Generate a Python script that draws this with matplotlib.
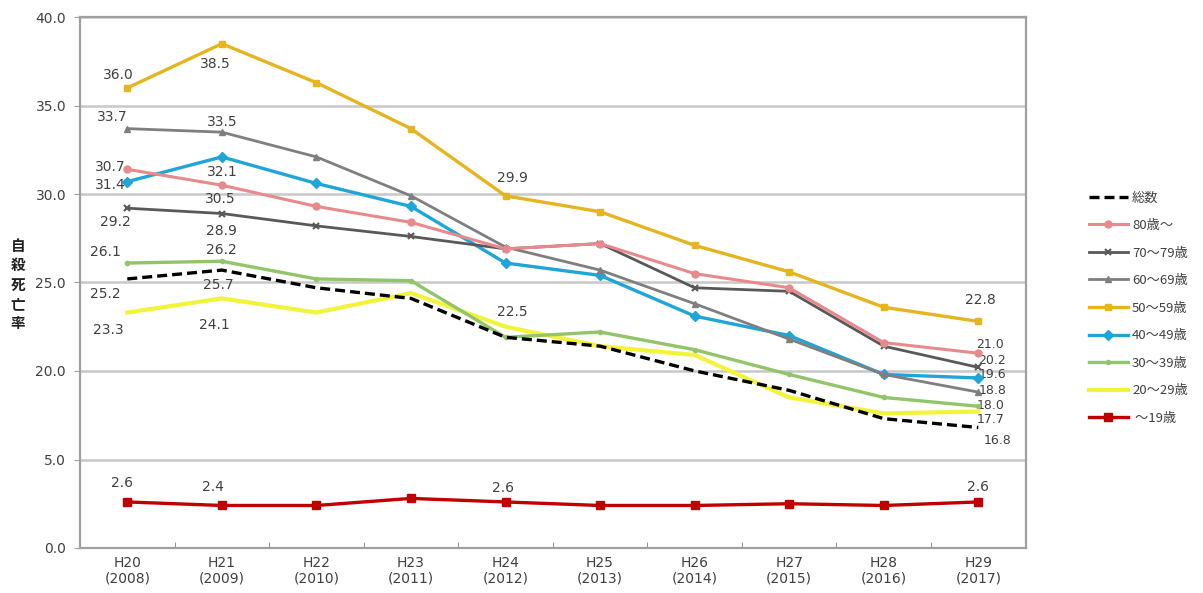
import matplotlib
matplotlib.use("Agg")
import matplotlib.pyplot as plt
import numpy as np

plt.rcParams['font.family'] = ['Noto Sans CJK JP', 'DejaVu Sans']

# categories
years = ["H20\n(2008)", "H21\n(2009)", "H22\n(2010)", "H23\n(2011)", "H24\n(2012)",
         "H25\n(2013)", "H26\n(2014)", "H27\n(2015)", "H28\n(2016)", "H29\n(2017)"]

# series values (suicide rate)
total = [25.2, 25.7, 24.7, 24.1, 21.9, 21.4, 20.0, 18.9, 17.3, 16.8]
age80 = [31.4, 30.5, 29.3, 28.4, 26.9, 27.2, 25.5, 24.7, 21.6, 21.0]
age70 = [29.2, 28.9, 28.2, 27.6, 26.9, 27.2, 24.7, 24.5, 21.4, 20.2]
age60 = [33.7, 33.5, 32.1, 29.9, 27.0, 25.7, 23.8, 21.8, 19.8, 18.8]
age50 = [36.0, 38.5, 36.3, 33.7, 29.9, 29.0, 27.1, 25.6, 23.6, 22.8]
age40 = [30.7, 32.1, 30.6, 29.3, 26.1, 25.4, 23.1, 22.0, 19.8, 19.6]
age30 = [26.1, 26.2, 25.2, 25.1, 21.9, 22.2, 21.2, 19.8, 18.5, 18.0]
age20 = [23.3, 24.1, 23.3, 24.4, 22.5, 21.4, 20.9, 18.5, 17.6, 17.7]
age19 = [2.6, 2.4, 2.4, 2.8, 2.6, 2.4, 2.4, 2.5, 2.4, 2.6]

names = ["総数", "80歳～", "70～79歳", "60～69歳", "50～59歳", "40～49歳", "30～39歳", "20～29歳", " ～19歳"]

y_ticks = [0, 5, 20, 25, 30, 35, 40]


def main():

    series = {
        "総数": (total, dict(color="black", ls=(0, (3, 1.5)), lw=2.4, marker=None)),
        "80歳～": (age80, dict(color="#E88A8C", lw=2.2, marker="o", ms=5)),
        "70～79歳": (age70, dict(color="#595959", lw=2.0, marker="x", ms=5, mew=1.5)),
        "60～69歳": (age60, dict(color="#7F7F7F", lw=2.0, marker="^", ms=5)),
        "50～59歳": (age50, dict(color="#E5B41E", lw=2.4, marker="s", ms=5)),
        "40～49歳": (age40, dict(color="#1FA5D8", lw=2.4, marker="D", ms=5)),
        "30～39歳": (age30, dict(color="#92C46A", lw=2.4, marker="o", ms=3)),
        "20～29歳": (age20, dict(color="#F2F43A", lw=3.0, marker=None)),
        " ～19歳": (age19, dict(color="#C00000", lw=2.4, marker="s", ms=6)),
    }

    fig = plt.figure(figsize=(12.03, 5.93), dpi=100)
    ax = fig.add_axes([0.0665, 0.076, 0.786, 0.895])

    # broken axis: the empty band between 5 and 15 is squeezed out
    fwd = lambda v: np.interp(v, [-100, 5, 15, 100], [-100, 5, 5.01, 90.01])
    inv = lambda v: np.interp(v, [-100, 5, 5.01, 90.01], [-100, 5, 15, 100])
    ax.set_yscale("function", functions=(fwd, inv))

    x = np.arange(len(years))
    lines = {}
    draw_order = [" ～19歳", "20～29歳", "30～39歳", "40～49歳", "60～69歳",
                  "50～59歳", "70～79歳", "80歳～", "総数"]
    for i, name in enumerate(draw_order):
        vals, st = series[name]
        ln, = ax.plot(x, vals, label=name, zorder=3 + i, **st)
        lines[name] = ln

    # data labels: (series, index, dx px, dy px)
    label_spots = [
        ("50～59歳", 0, -9, 13), ("60～69歳", 0, -15, 12), ("40～49歳", 0, -17, 15),
        ("80歳～", 0, -17, -16), ("70～79歳", 0, -12, -14), ("30～39歳", 0, -22, 11),
        ("総数", 0, -22, -15), ("20～29歳", 0, -19, -17), (" ～19歳", 0, -5, 19),
        ("50～59歳", 1, -7, -20), ("60～69歳", 1, 0, 10), ("40～49歳", 1, 0, -15),
        ("80歳～", 1, -2, -14), ("70～79歳", 1, 0, -17), ("30～39歳", 1, 0, 11),
        ("総数", 1, -4, -15), ("20～29歳", 1, -7, -27), (" ～19歳", 1, -9, 18),
        ("50～59歳", 4, 7, 18), ("20～29歳", 4, 7, 15), (" ～19歳", 4, -3, 14),
        ("50～59歳", 9, 2, 21), (" ～19歳", 9, 0, 15),
    ]
    # crowded labels at the right end, stacked a bit tighter
    end_spots = [
        ("80歳～", 9, 12, 9), ("70～79歳", 9, 14, 7), ("40～49歳", 9, 14, 3),
        ("60～69歳", 9, 14, 2), ("30～39歳", 9, 12, 1), ("20～29歳", 9, 12, -8),
        ("総数", 9, 19, -13),
    ]
    for spots, fs in ((label_spots, 10), (end_spots, 9)):
        for name, i, dx, dy in spots:
            v = series[name][0][i]
            ax.annotate(f"{v:.1f}", (x[i], v), xytext=(dx, dy), textcoords="offset pixels",
                        ha="center", va="center", fontsize=fs, color="#404040",
                        family=["DejaVu Sans"], zorder=2)

    ax.set_xlim(-0.5, len(years) - 0.5)
    ax.set_ylim(0, 40)
    ax.set_yticks(y_ticks)
    ax.set_yticklabels([f"{t:.1f}" for t in y_ticks], fontsize=10, color="#404040",
                       family=["DejaVu Sans"])
    ax.grid(axis="y", color="#C8C8C8", lw=1.8, zorder=1)
    ax.tick_params(axis="y", length=4, color="#A0A0A0", pad=6)

    ax.set_xticks(x)
    ax.set_xticklabels(years, fontsize=10, color="#404040", family=["DejaVu Sans"],
                       linespacing=1.1)
    ax.set_xticks(x[:-1] + 0.5, minor=True)
    ax.tick_params(axis="x", which="major", length=0, pad=6)
    ax.tick_params(axis="x", which="minor", length=4, direction="in", color="#808080")

    for s in ax.spines.values():
        s.set_color("#A0A0A0")
        s.set_linewidth(1.6)

    fig.text(0.015, 0.52, "自\n殺\n死\n亡\n率", fontsize=10.5, fontweight="bold",
             ha="center", va="center", linespacing=1.25, color="#202020")

    handles = [lines[n] for n in names]
    fig.legend(handles, names, loc="upper left", bbox_to_anchor=(0.895, 0.697),
               frameon=False, fontsize=9.5, handlelength=3.0, labelspacing=1.1,
               handletextpad=0.3, labelcolor="#404040")

    fig.savefig("out.png", dpi=100)


if __name__ == "__main__":
    main()
